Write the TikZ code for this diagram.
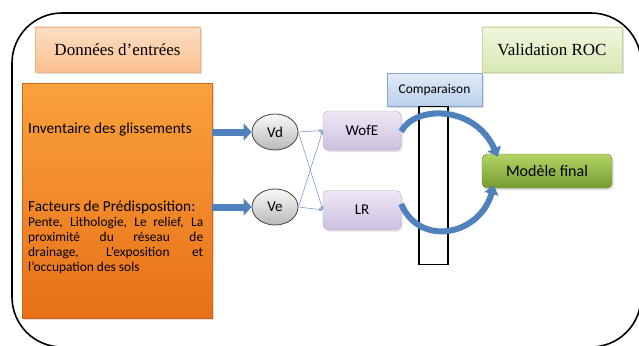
\documentclass[tikz,border=0pt]{standalone}
\usepackage{fontspec}
\setmainfont{Liberation Serif}
\newfontfamily\calfont{Carlito}
\usetikzlibrary{arrows.meta,shapes.geometric,shadows}
\definecolor{peachT}{RGB}{253,222,196}
\definecolor{peachB}{RGB}{250,192,144}
\definecolor{peachD}{RGB}{240,180,130}
\definecolor{lgreenT}{RGB}{240,247,222}
\definecolor{lgreenB}{RGB}{215,232,180}
\definecolor{lgreenD}{RGB}{195,214,155}
\definecolor{orT}{RGB}{250,162,60}
\definecolor{orB}{RGB}{232,112,24}
\definecolor{grT}{RGB}{250,250,250}
\definecolor{grB}{RGB}{185,185,185}
\definecolor{lavT}{RGB}{238,232,244}
\definecolor{lavB}{RGB}{205,192,225}
\definecolor{lavD}{RGB}{180,165,205}
\definecolor{lbT}{RGB}{225,236,250}
\definecolor{lbB}{RGB}{185,207,235}
\definecolor{lbD}{RGB}{130,165,210}
\definecolor{gnT}{RGB}{178,212,100}
\definecolor{gnB}{RGB}{118,155,50}
\definecolor{gnD}{RGB}{100,135,45}
\definecolor{blueA}{RGB}{79,129,189}
\definecolor{blueD}{RGB}{56,93,138}
\definecolor{thinB}{RGB}{120,155,200}
\begin{document}
\begin{tikzpicture}[x=1pt,y=-1pt,
  shad/.style={drop shadow={opacity=0.25,shadow xshift=1.5pt,shadow yshift=-2pt}},
  titlebox/.style={draw, line width=0.6pt, minimum height=45pt, inner sep=0pt, font=\fontsize{17}{20}\selectfont, shad},
  ell/.style={ellipse, draw=black!75, line width=0.8pt, top color=grT, bottom color=grB, minimum width=46pt, minimum height=36pt, inner sep=0pt, font=\calfont\fontsize{15}{17}\selectfont},
  model/.style={draw=lavD, rounded corners=5pt, top color=lavT, bottom color=lavB, minimum width=78pt, minimum height=39pt, inner sep=0pt, font=\calfont\fontsize{15}{17}\selectfont, shad},
  fatarrow/.style={blueA, line width=7pt, -{Triangle[width=17pt,length=8pt]}},
  thin/.style={thinB, line width=0.6pt, -{Stealth[length=4pt,width=3.5pt]}},
  curved/.style={draw=blueA, line width=6pt, -{Triangle[width=14pt,length=9pt]}},
  listline/.style={anchor=west, inner sep=0pt, font=\calfont\fontsize{13.4}{15.2}\selectfont}
]
\useasboundingbox (0,0) rectangle (639,345);
% outer frame
\draw[line width=1.6pt, rounded corners=50pt] (12,13) rectangle (641,347);

% titles
\node[titlebox, draw=peachD, top color=peachT, bottom color=peachB, minimum width=165pt] (donnees) at (117.5,49.5) {Données d’entrées};
\node[titlebox, draw=lgreenD, top color=lgreenT, bottom color=lgreenB, minimum width=140pt] (valid) at (552,49.5) {Validation ROC};

% orange input box
\node[draw=orB!90!black, line width=0.4pt, top color=orT, bottom color=orB, minimum width=190pt, minimum height=235pt, inner sep=0pt, shad] (input) at (117,200.5) {};
\node[anchor=west, inner sep=0pt, font=\calfont\fontsize{15.3}{17}\selectfont] (inv) at (28,130) {Inventaire des glissements};
\node[anchor=west, inner sep=0pt, font=\calfont\fontsize{15.3}{17}\selectfont] (fact) at (28,207) {Facteurs de Prédisposition:};
\node[listline] (l1) at (28,223) {\makebox[175pt][s]{Pente, Lithologie, Le relief, La}};
\node[listline] (l2) at (28,238) {\makebox[175pt][s]{proximité du réseau de}};
\node[listline] (l3) at (28,253) {\makebox[175pt][s]{drainage, L’exposition et}};
\node[listline] (l4) at (28,268) {\makebox[175pt][l]{l’occupation des sols}};

% ellipses
\node[ell] (vd) at (275,132) {Vd};
\node[ell] (ve) at (275,207) {Ve};

% models
\node[model] (wofe) at (362,130.5) {WofE};
\node[model] (lr) at (362,210) {LR};

% comparison
\node[draw=lbD, line width=0.6pt, top color=lbT, bottom color=lbB, minimum width=95pt, minimum height=33pt, inner sep=0pt, font=\calfont\fontsize{13.4}{15}\selectfont, shad] (comp) at (434.5,89.5) {Comparaison};
\node[draw=black, line width=1.2pt, minimum width=29pt, minimum height=158pt, inner sep=0pt, anchor=north] (bar) at (433.5,106) {};

% final model
\node[draw=gnD, rounded corners=5pt, top color=gnT, bottom color=gnB, minimum width=130pt, minimum height=34pt, inner sep=0pt, font=\calfont\fontsize{16}{18}\selectfont, shad] (final) at (547,171) {Modèle final};

% fat arrows
\draw[fatarrow] (input.east |- vd) -- (vd.west);
\draw[fatarrow] (input.east |- ve) -- (ve.west);

% thin crossing arrows
\draw[thin] (vd.east) -- (wofe.west);
\draw[thin] (vd.east) -- (lr.west);
\draw[thin] (ve.east) -- (wofe.west);
\draw[thin] (ve.east) -- (lr.west);

% curved arrows
\draw[curved] ([yshift=-1pt]wofe.east) .. controls (415,105) and (475,105) .. ([xshift=16pt,yshift=-3pt]final.north west);
\draw[curved] ([yshift=6pt]lr.east) .. controls (420,248) and (480,235) .. ([xshift=12pt,yshift=3pt]final.south west);
\end{tikzpicture}
\end{document}
